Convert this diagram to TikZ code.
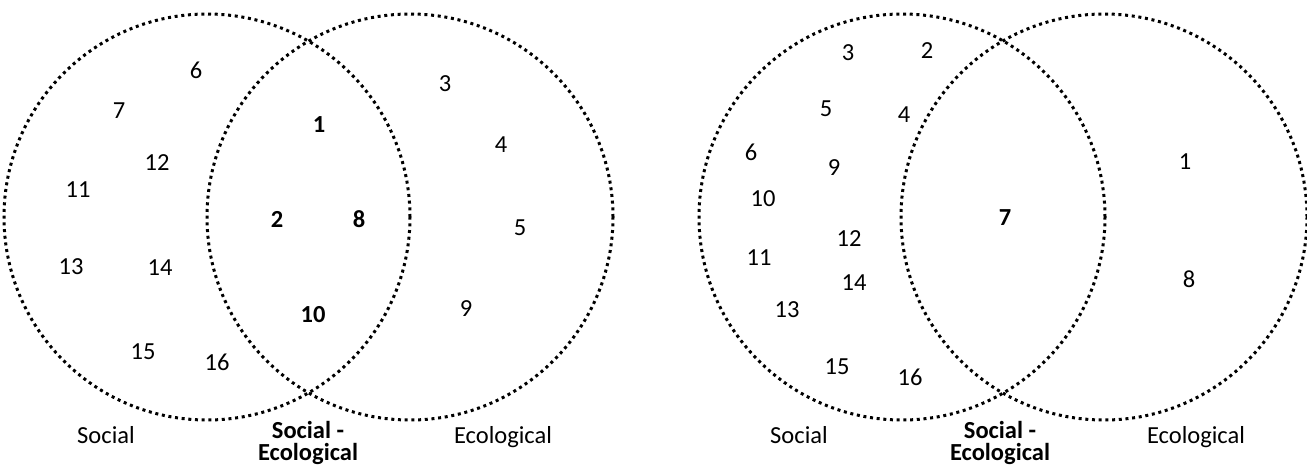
\documentclass[tikz,border=0pt]{standalone}
\usepackage{fontspec}
\setmainfont{Carlito}

\tikzset{
  ring/.style={circle, draw, line width=3pt, dash pattern=on 3pt off 3.7pt,
    minimum size=406pt, inner sep=0pt},
  core/.style={font=\fontsize{24.5}{22}\selectfont\bfseries},
}

\begin{document}
\begin{tikzpicture}[x=1pt, y=-1pt, every node/.style={font=\fontsize{24.5}{25}\selectfont}]
    \useasboundingbox (0,0) rectangle (1307,466);

    % left diagram: circles
    \node[ring] (socA) at (207,217) {};
    \node[ring] (ecoA) at (410,217) {};

    % left diagram: social only
    \node (a6) at (196,70) {6};
    \node (a7) at (119,111) {7};
    \node (a12) at (157,163) {12};
    \node (a11) at (78,190) {11};
    \node (a13) at (71,267) {13};
    \node (a14) at (160,268) {14};
    \node (a15) at (143,352) {15};
    \node (a16) at (217,362) {16};

    % left diagram: overlap
    \node[core] (a1) at (319,125) {1};
    \node[core] (a2) at (277,219) {2};
    \node[core] (a8) at (359,219) {8};
    \node[core] (a10) at (313,315) {10};

    % left diagram: ecological only
    \node (a3) at (445,84) {3};
    \node (a4) at (501,145) {4};
    \node (a5) at (520,228) {5};
    \node (a9) at (466,309) {9};

    % left diagram: captions
    \node[anchor=base] (socAlab) at (106,443) {Social};
    \node[core, anchor=base, align=center] (bothAlab) at (308,460) {Social -\\Ecological};
    \node[anchor=base] (ecoAlab) at (503,443) {Ecological};

    % right diagram: circles
    \node[ring] (socB) at (902,217) {};
    \node[ring] (ecoB) at (1104,217) {};

    % right diagram: social only
    \node (b3) at (848,53) {3};
    \node (b2) at (927,51) {2};
    \node (b5) at (826,109) {5};
    \node (b4) at (904,115) {4};
    \node (b6) at (751,152) {6};
    \node (b9) at (834,168) {9};
    \node (b10) at (763,199) {10};
    \node (b12) at (849,239) {12};
    \node (b11) at (759,258) {11};
    \node (b14) at (854,283) {14};
    \node (b13) at (787,310) {13};
    \node (b15) at (837,367) {15};
    \node (b16) at (910,377) {16};

    % right diagram: overlap
    \node[core] (b7) at (1005,218) {7};

    % right diagram: ecological only
    \node (b1) at (1185,162) {1};
    \node (b8) at (1189,279) {8};

    % right diagram: captions
    \node[anchor=base] (socBlab) at (799,443) {Social};
    \node[core, anchor=base, align=center] (bothBlab) at (1000,460) {Social -\\Ecological};
    \node[anchor=base] (ecoBlab) at (1196,443) {Ecological};
\end{tikzpicture}
\end{document}
